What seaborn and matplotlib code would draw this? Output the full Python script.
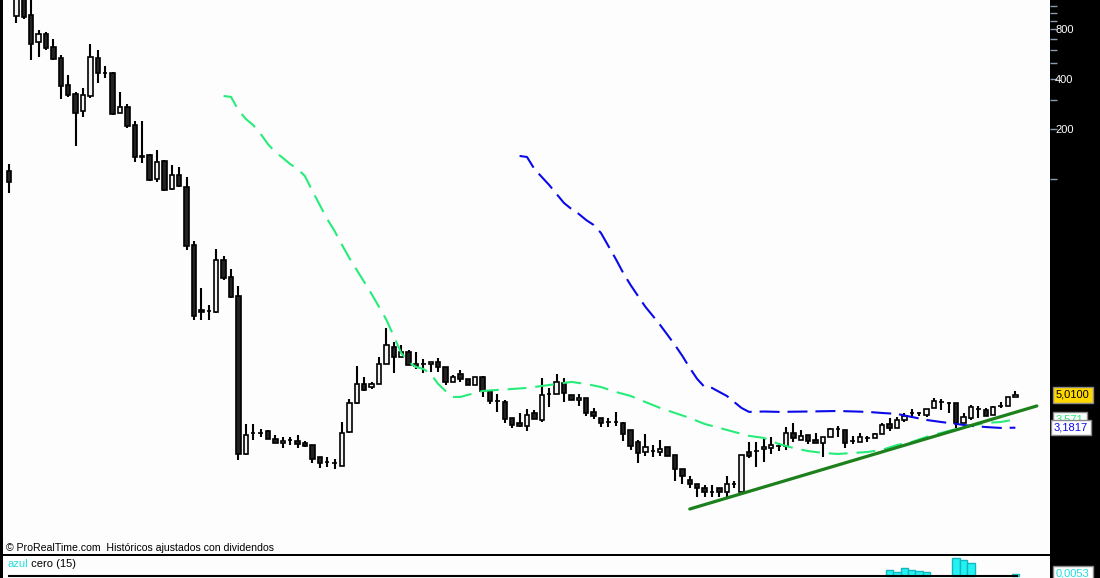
import numpy as np
import pandas as pd
import seaborn as sns
import matplotlib
matplotlib.use("Agg")
import matplotlib.pyplot as plt
import matplotlib.transforms as mtransforms
from matplotlib.ticker import FixedLocator, NullLocator, NullFormatter, FuncFormatter

# daily candles (log price scale)
opens = [112, 958, 1247, 971, 668, 746, 623, 535, 368, 325,
         257, 316, 535, 437, 435, 250, 271, 211, 137, 139,
         100, 128, 87.1, 105.7, 89.5, 40.1, 16.2, 16.0, 15.8, 32.5,
         25.7, 19.75, 2.21, 2.94, 2.97, 3.04, 2.72, 2.574, 2.68, 2.646,
         2.574, 2.503, 2.12, 1.98, 1.95, 1.871, 3.0, 4.48, 5.83, 5.59,
         5.83, 7.69, 9.74, 8.48, 9.09, 7.48, 7.70, 7.69, 7.91, 7.38,
         6.0, 6.70, 6.25, 5.75, 6.43, 5.29, 4.62, 4.54, 3.64, 3.40,
         3.26, 3.90, 3.54, 5.06, 5.08, 5.91, 5.0, 4.67, 4.80, 3.96,
         3.64, 3.45, 3.44, 3.40, 3.08, 2.61, 2.27, 2.31, 2.27, 2.435,
         2.18, 1.795, 1.541, 1.458, 1.379, 1.31, 1.379, 1.305, 1.455, 1.305,
         2.27, 2.31, 2.37, 2.40, 2.47, 2.47, 2.956, 2.683, 2.876, 2.683,
         2.574, 2.797, 3.12, 3.08, 2.65, 2.61, 2.76, 2.758, 2.916, 3.349,
         3.169, 3.54, 3.90, 3.90, 3.794, 4.181, 4.55, 4.48, 4.48, 3.396,
         3.64, 4.12, 4.067, 3.794, 4.30, 4.298, 4.87]
highs = [123, 1374, 1336, 1282, 789, 767, 696, 558, 423, 334,
         353, 650, 598, 479, 440, 334, 283, 223, 223, 141,
         150, 130, 121, 118, 103, 42.3, 22.1, 17.4, 37.9, 34.4,
         28.7, 22.7, 3.35, 3.35, 3.12, 3.06, 2.88, 2.80, 2.80, 2.876,
         2.646, 2.51, 2.13, 2.12, 2.06, 3.44, 4.74, 7.48, 6.43, 6.0,
         8.48, 12.7, 10.44, 10.0, 9.34, 9.09, 8.25, 7.93, 8.36, 7.40,
         6.61, 7.08, 6.27, 6.45, 6.52, 5.30, 5.08, 4.67, 3.65, 3.90,
         4.12, 4.07, 6.34, 5.52, 6.70, 6.34, 5.02, 5.08, 4.82, 4.18,
         3.65, 3.64, 3.96, 3.44, 3.09, 2.68, 2.92, 2.50, 2.68, 2.44,
         2.19, 1.80, 1.629, 1.46, 1.438, 1.438, 1.38, 1.629, 1.52, 2.19,
         2.61, 2.61, 2.72, 2.80, 2.574, 3.21, 3.40, 3.08, 2.88, 2.956,
         2.80, 3.17, 3.26, 3.09, 2.836, 2.956, 2.836, 2.956, 3.40, 3.64,
         3.69, 3.90, 4.12, 3.955, 4.13, 4.80, 4.737, 4.544, 4.50, 3.90,
         4.36, 4.298, 4.181, 4.298, 4.544, 4.88, 5.29]
lows = [82.4, 869, 919, 521, 543, 598, 521, 303, 312, 158,
        236, 307, 378, 406, 243, 248, 203, 127, 125, 97,
        95.9, 84.7, 86, 89.5, 37.4, 14.2, 14.2, 14.2, 15.6, 24.7,
        19.2, 2.03, 2.19, 2.68, 2.80, 2.71, 2.56, 2.40, 2.50, 2.40,
        2.435, 1.95, 1.82, 1.845, 1.795, 1.86, 2.956, 4.42, 5.29, 5.44,
        5.80, 7.65, 6.79, 8.45, 7.55, 7.18, 6.79, 6.89, 6.89, 5.75,
        5.98, 6.0, 5.73, 5.73, 4.87, 4.42, 3.96, 3.40, 3.17, 3.21,
        3.04, 3.57, 3.44, 4.24, 5.05, 4.54, 4.65, 4.30, 3.74, 3.59,
        3.21, 3.21, 3.26, 2.65, 2.34, 1.95, 2.15, 2.12, 2.15, 2.14,
        1.52, 1.458, 1.379, 1.2175, 1.2175, 1.2175, 1.2175, 1.2175, 1.379, 1.29,
        2.09, 1.845, 1.98, 2.21, 2.30, 2.34, 2.61, 2.68, 2.538, 2.57,
        2.12, 2.79, 2.80, 2.40, 2.538, 2.60, 2.61, 2.75, 2.91, 3.04,
        3.16, 3.44, 3.64, 3.742, 3.69, 4.17, 4.067, 3.90, 3.169, 3.39,
        3.54, 3.64, 3.74, 3.79, 4.181, 4.29, 4.86]
closes = [95.9, 1282, 945, 650, 746, 615, 528, 363, 320, 250,
          320, 543, 435, 433, 246, 271, 209, 136, 135, 98.6,
          127, 85.9, 105.7, 90.8, 39.5, 15.0, 15.9, 16.1, 32.5, 25.35,
          19.5, 2.21, 2.88, 2.97, 2.95, 2.72, 2.574, 2.646, 2.67, 2.538,
          2.469, 2.062, 1.95, 1.97, 1.95, 2.956, 4.48, 5.83, 5.37, 5.83,
          7.69, 10.0, 8.48, 9.09, 7.59, 7.69, 7.68, 7.91, 7.38, 6.0,
          6.43, 6.25, 5.75, 6.43, 5.29, 4.61, 4.60, 3.59, 3.30, 3.26,
          3.79, 3.59, 5.0, 5.08, 6.0, 5.15, 4.67, 4.80, 3.90, 3.74,
          3.40, 3.43, 3.44, 2.92, 2.47, 2.24, 2.435, 2.30, 2.37, 2.15,
          1.795, 1.629, 1.458, 1.379, 1.305, 1.30, 1.305, 1.458, 1.46, 2.18,
          2.15, 2.30, 2.435, 2.503, 2.47, 2.956, 2.758, 2.836, 2.646, 2.574,
          2.797, 3.125, 3.13, 2.574, 2.64, 2.797, 2.76, 2.916, 3.303, 3.169,
          3.54, 3.742, 3.91, 3.90, 4.123, 4.607, 4.54, 4.49, 3.396, 3.691,
          4.239, 4.12, 3.742, 4.239, 4.30, 4.87, 5.01]

# green (short) moving average, read at candle positions
green_idx = [29, 30, 31, 32, 33, 34, 35, 36, 37, 38, 39, 40, 41, 42, 43, 44, 45,
             46, 47, 48, 49, 50, 51, 52, 53, 54, 55, 56, 57, 58, 59, 60, 61, 62,
             64, 66, 68, 70, 72, 74, 76, 78, 80, 82, 84, 86, 88, 90, 92, 94, 96,
             98, 100, 102, 104, 106, 108, 110, 112, 114, 116, 118, 120, 122, 124,
             126, 128, 130, 132, 134, 136]
green_val = [316, 312, 260, 230, 211, 187, 162, 145, 134, 123, 115, 104, 84.7, 69.7,
             57.4, 48.6, 40.1, 33.4, 28.3, 24.0, 20.3, 17.0, 14.2, 11.3, 8.96, 7.91,
             7.38, 7.18, 6.70, 5.83, 5.29, 4.87, 4.87, 5.01,
             5.29, 5.37, 5.44, 5.52, 5.67, 5.83, 6.0, 5.83, 5.59, 5.22, 4.94, 4.54,
             4.18, 3.90, 3.64, 3.35, 3.17, 3.0, 2.84, 2.76, 2.54, 2.40, 2.30, 2.24,
             2.21, 2.24, 2.27, 2.34, 2.50, 2.61, 2.80, 2.96, 3.125, 3.26, 3.40, 3.44,
             3.57]

# blue (long) moving average
blue_idx = [69, 70, 71, 72, 73, 74, 75, 76, 77, 78, 79, 80, 81, 82, 83, 84, 85, 86,
            87, 88, 89, 90, 91, 92, 93, 94, 95, 96, 97, 98, 99, 100, 102, 104, 108,
            112, 116, 118, 120, 122, 124, 126, 128, 130, 132, 134, 136]
blue_val = [137.6, 135.7, 114.9, 102.8, 92.0, 81.2, 71.7, 66.0, 61.6, 56.6, 52.9,
            47.3, 39.5, 33.0, 27.2, 23.0, 19.75, 17.0, 15.0, 13.2, 11.5, 10.0, 8.60,
            7.28, 6.25, 5.59, 5.52, 5.22, 4.94, 4.54, 4.18, 3.96, 3.98, 3.96, 3.98,
            4.01, 3.96, 3.90, 3.85, 3.69, 3.54, 3.44, 3.35, 3.26, 3.21, 3.17, 3.18]

# hand drawn support line
trend_idx = [92.0, 138.9]
trend_val = [1.03, 4.30]

# lower panel histogram "azul cero (15)"
hist_idx = [119, 120, 121, 122, 123, 124, 128, 129, 130, 136]
hist_val = [0.016, 0.011, 0.021, 0.016, 0.013, 0.011, 0.048, 0.042, 0.034, 0.0053]

axis_major = [200, 400, 800]
axis_minor = [100, 300, 500, 600, 700, 900, 1000, 1100, 1200]

last_close, last_close_txt = 5.01, "5,0100"
green_last, green_last_txt = 3.571, "3,571"
blue_last, blue_last_txt = 3.1817, "3,1817"
hist_last, hist_last_txt = 0.0053, "0,0053"

GREEN = "#26ec7a"
BLUE = "#0a0ae8"
TREND = "#1c801c"
CYAN = "#22dede"

sns.set_theme(style="white")
plt.rcParams["font.family"] = ["Liberation Sans", "DejaVu Sans"]

W, H = 1100, 578
fig = plt.figure(figsize=(W / 100, H / 100), dpi=100, facecolor="black")
ax = fig.add_axes([3 / W, 24 / H, 1047 / W, 554 / H], facecolor="#fdfdfd")
ax2 = fig.add_axes([3 / W, 0, 1047 / W, 22 / H], facecolor="#fdfdfd", sharex=ax)
ax_r = fig.add_axes([1050 / W, 24 / H, 50 / W, 554 / H], facecolor="black")
ax_r2 = fig.add_axes([1050 / W, 0, 50 / W, 22 / H], facecolor="black")

candles = pd.DataFrame({"open": opens, "high": highs, "low": lows, "close": closes})
candles["idx"] = np.arange(len(candles))
candles["top"] = candles[["open", "close"]].max(axis=1)
candles["bot"] = candles[["open", "close"]].min(axis=1)
candles["fill"] = np.where(candles["close"] > candles["open"], "#f4f4f4", "#222222")

ax.set_yscale("log")
ax.vlines(candles["idx"], candles["low"], candles["high"], color="black", lw=1.5, zorder=2)
ax.bar(candles["idx"], candles["top"] - candles["bot"], bottom=candles["bot"], width=0.6,
       color=candles["fill"], edgecolor="black", linewidth=1.2, zorder=3)

# moving averages
sns.lineplot(x=green_idx, y=green_val, ax=ax, color=GREEN, linewidth=1.5,
             estimator=None, sort=False, zorder=4)
ax.lines[-1].set_dashes([9, 4.3])
sns.lineplot(x=blue_idx, y=blue_val, ax=ax, color=BLUE, linewidth=1.5,
             estimator=None, sort=False, zorder=4)
ax.lines[-1].set_dashes([9.6, 3.8])
sns.lineplot(x=trend_idx, y=trend_val, ax=ax, color=TREND, linewidth=2.3,
             estimator=None, sort=False, zorder=5)

ax.set_xlim(-0.81, 140.68)
ax.set_ylim(0.552, 1196)
ax.yaxis.set_major_locator(NullLocator())
ax.yaxis.set_minor_locator(NullLocator())
ax.set_xticks([])
ax.set_xlabel("")
ax.set_ylabel("")
for s in ax.spines.values():
    s.set_visible(False)

ax.annotate("\u00a9 ProRealTime.com  Hist\u00f3ricos ajustados con dividendos",
            xy=(0, 0), xycoords="axes fraction", xytext=(3, 3),
            textcoords="offset pixels", fontsize=7.6, color="black", va="baseline")

# right price scale
ax_r.set_yscale("log")
ax_r.set_ylim(ax.get_ylim())
ax_r.set_xlim(0, 1)
ax_r.set_xticks([])
ax_r.yaxis.set_major_locator(FixedLocator(axis_major))
ax_r.yaxis.set_minor_locator(FixedLocator(axis_minor))
ax_r.yaxis.set_major_formatter(FuncFormatter(lambda v, p: f"{v:.0f}"))
ax_r.yaxis.set_minor_formatter(NullFormatter())
ax_r.tick_params(axis="y", which="both", direction="in", length=5, width=1,
                 color="#8a9bb0", left=True, right=False, labelleft=True,
                 labelcolor="white", labelsize=8, pad=-17)
for s in ax_r.spines.values():
    s.set_visible(False)

trans_r = mtransforms.blended_transform_factory(ax_r.transAxes, ax_r.transData)
ax_r.text(0.12, last_close, last_close_txt, transform=trans_r, va="center", ha="left",
          fontsize=8, color="black", zorder=5,
          bbox=dict(boxstyle="square,pad=0.25", fc="#ffd800", ec="#8a8a8a", lw=1))
ax_r.text(0.12, green_last, green_last_txt, transform=trans_r, va="center", ha="left",
          fontsize=8, color=GREEN, zorder=5,
          bbox=dict(boxstyle="square,pad=0.25", fc="white", ec="#8a8a8a", lw=1))
ax_r.text(0.08, blue_last, blue_last_txt, transform=trans_r, va="center", ha="left",
          fontsize=8, color=BLUE, zorder=6,
          bbox=dict(boxstyle="square,pad=0.25", fc="white", ec="#8a8a8a", lw=1))

# lower indicator panel
ax2.bar(hist_idx, hist_val, width=1.0, color="#24f2f2", edgecolor="#12b8c0",
        linewidth=1.0, zorder=2)
ax2.hlines(0, -0.15, 136.3, color="black", lw=1.5, zorder=3)
ax2.set_ylim(-0.0053, 0.053)
ax2.set_xticks([])
ax2.set_yticks([])
for s in ax2.spines.values():
    s.set_visible(False)
t_azul = ax2.annotate("azul", xy=(0, 1), xycoords="axes fraction", xytext=(4, -3),
                      textcoords="offset pixels", fontsize=8, color=CYAN,
                      va="top", ha="left")
ax2.annotate(" cero (15)", xy=(1, 0), xycoords=t_azul, fontsize=8, color="black",
             va="bottom", ha="left")

ax_r2.set_ylim(ax2.get_ylim())
ax_r2.set_xlim(0, 1)
ax_r2.set_xticks([])
ax_r2.set_yticks([])
for s in ax_r2.spines.values():
    s.set_visible(False)
trans_r2 = mtransforms.blended_transform_factory(ax_r2.transAxes, ax_r2.transData)
ax_r2.text(0.12, hist_last, hist_last_txt, transform=trans_r2, va="center", ha="left",
           fontsize=8, color=CYAN,
           bbox=dict(boxstyle="square,pad=0.25", fc="white", ec="#8a8a8a", lw=1))

fig.savefig("out.png", dpi=100, facecolor="black")
